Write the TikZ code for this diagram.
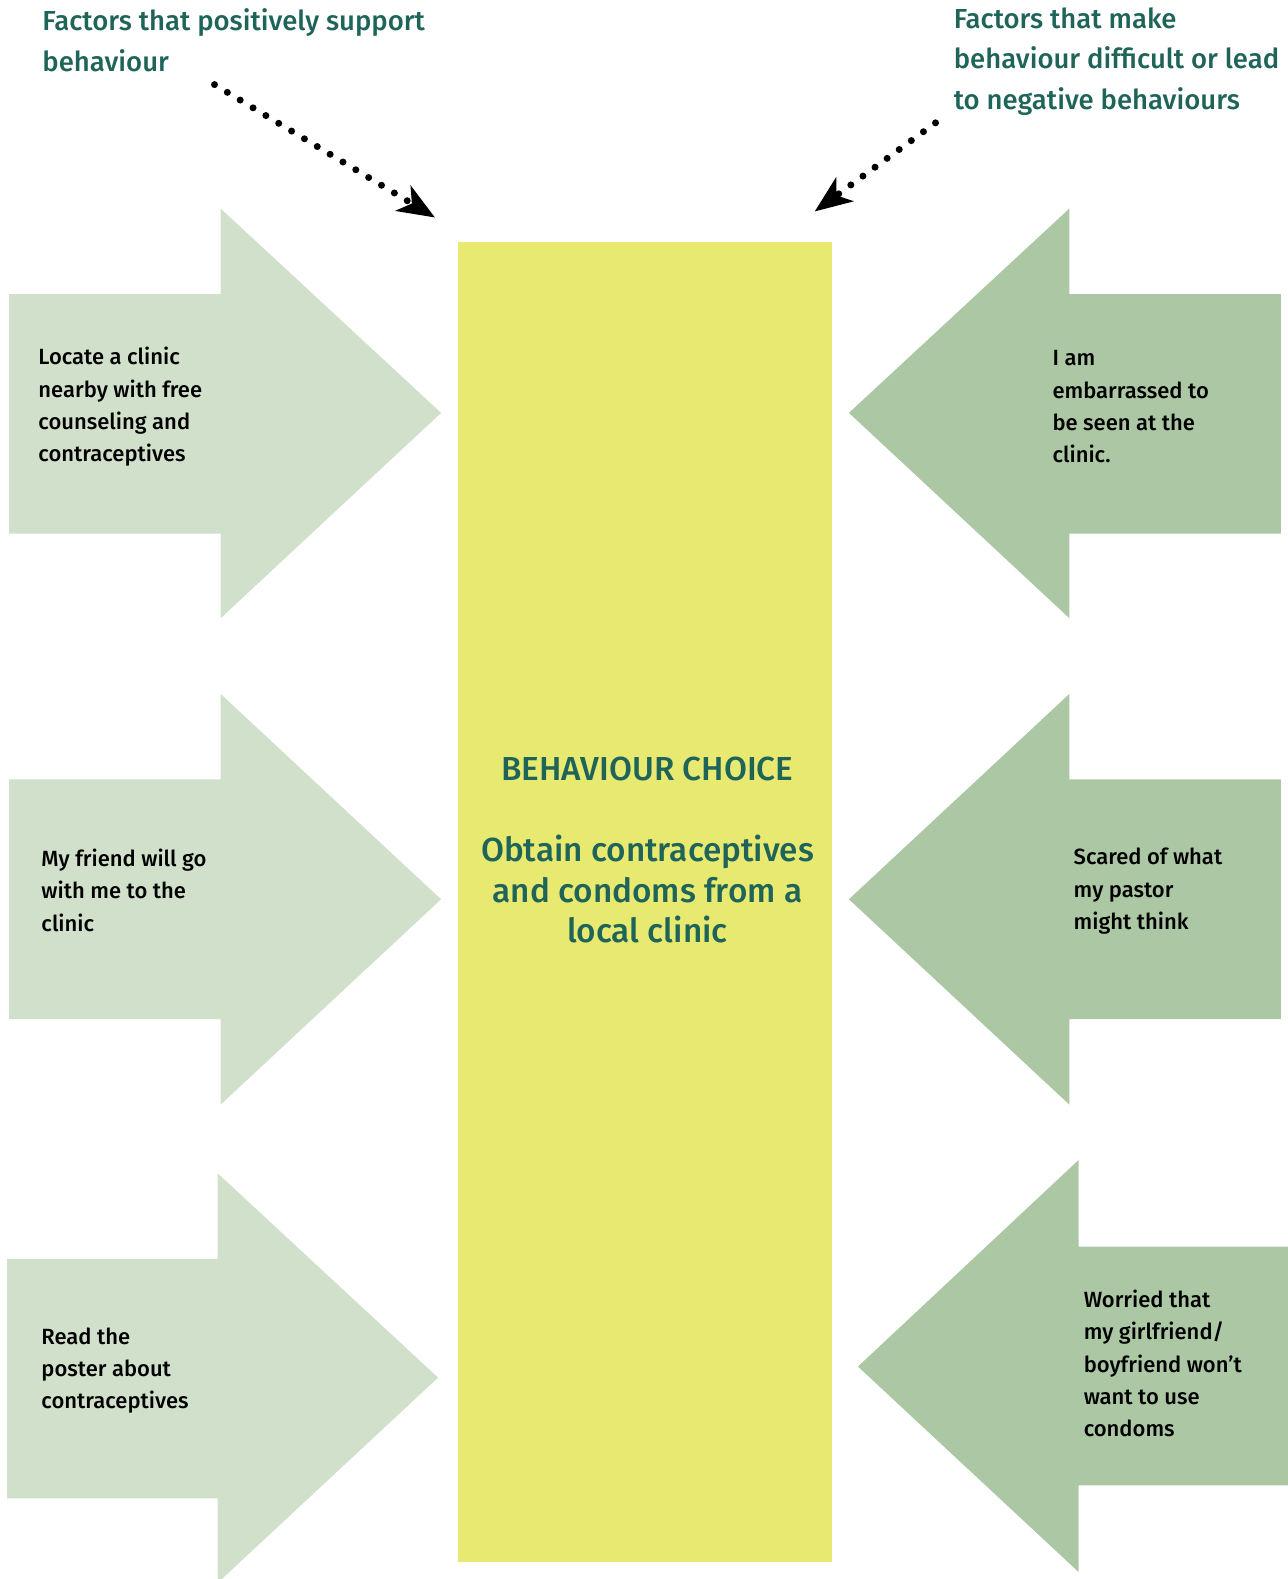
\documentclass[tikz,border=0pt]{standalone}
\usepackage{fontspec}
\setmainfont{Fira Sans}[BoldFont={Fira Sans Medium}]
\usetikzlibrary{arrows.meta}
\definecolor{lightg}{HTML}{D1E0CB}
\definecolor{darkg}{HTML}{ACC7A4}
\definecolor{yellowc}{HTML}{E8E970}
\definecolor{tealc}{HTML}{1E6459}
\tikzset{
  posarrow/.style={fill=lightg},
  negarrow/.style={fill=darkg},
  boxtext/.style={anchor=west, align=left, inner sep=0pt, text=black,
    font=\fontsize{22bp}{32.2bp}\selectfont\bfseries},
  titletext/.style={anchor=west, align=left, inner sep=0pt, text=tealc,
    font=\fontsize{27.5bp}{40.3bp}\selectfont\bfseries},
  centertext/.style={align=center, inner sep=0pt, text=tealc,
    font=\fontsize{33.3bp}{40.3bp}\selectfont\bfseries},
  dotarrow/.style={line width=7bp, line cap=round, dash pattern=on 0bp off 15bp,
    -{Stealth[length=37bp,width=29bp,inset=10bp]}}
}
\begin{document}
\begin{tikzpicture}[x=1.007bp,y=-1.007bp]
\useasboundingbox (0,0) rectangle (1279,1568);
% central box
\node[fill=yellowc, minimum width=373.6bp, minimum height=1320bp, anchor=north west, inner sep=0pt] (box) at (455,240) {};
% left arrows
\fill[posarrow] (9,292) -- (219,292) -- (219,207) -- (438,410) -- (219,614) -- (219,530) -- (9,530) -- cycle;
\fill[posarrow] (9,774) -- (219,774) -- (219,689) -- (438,893) -- (219,1097) -- (219,1012) -- (9,1012) -- cycle;
\fill[posarrow] (7,1250) -- (216,1250) -- (216,1165) -- (435,1368) -- (216,1572) -- (216,1488) -- (7,1488) -- cycle;
% right arrows
\fill[negarrow] (1272,292) -- (1062,292) -- (1062,207) -- (843,410) -- (1062,614) -- (1062,530) -- (1272,530) -- cycle;
\fill[negarrow] (1272,774) -- (1062,774) -- (1062,689) -- (843,893) -- (1062,1097) -- (1062,1012) -- (1272,1012) -- cycle;
\fill[negarrow] (1279,1238) -- (1071,1238) -- (1071,1152) -- (852,1357) -- (1071,1561) -- (1071,1475) -- (1279,1475) -- cycle;
% texts
\node[titletext] (t1) at (42,40) {Factors that positively support\\behaviour};
\node[titletext] (t2) at (947,61) {Factors that make\\behaviour difficult or lead\\to negative behaviours};
\node[boxtext] (l1) at (38,404) {Locate a clinic\\nearby with free\\counseling and\\contraceptives};
\node[boxtext] (l2) at (41,884) {My friend will go\\with me to the\\clinic};
\node[boxtext] (l3) at (41,1361) {Read the\\poster about\\contraceptives};
\node[boxtext] (r1) at (1045,404) {I am\\embarrassed to\\be seen at the\\clinic.};
\node[boxtext] (r2) at (1066,885) {Scared of what\\my pastor\\might think};
\node[boxtext] (r3) at (1076,1354) {Worried that\\my girlfriend/\\boyfriend won’t\\want to use\\condoms};
\node[centertext] (c1) at (643,764) {BEHAVIOUR CHOICE};
\node[centertext] (c2) at (643,883) {Obtain contraceptives\\and condoms from a\\local clinic};
% dotted arrows
\coordinate (s1) at (213,84);
\coordinate (e1) at (432,216);
\coordinate (s2) at (929,122);
\coordinate (e2) at (809,210);
\draw[dotarrow] (s1) -- (e1);
\draw[dotarrow] (s2) -- (e2);
\end{tikzpicture}
\end{document}
